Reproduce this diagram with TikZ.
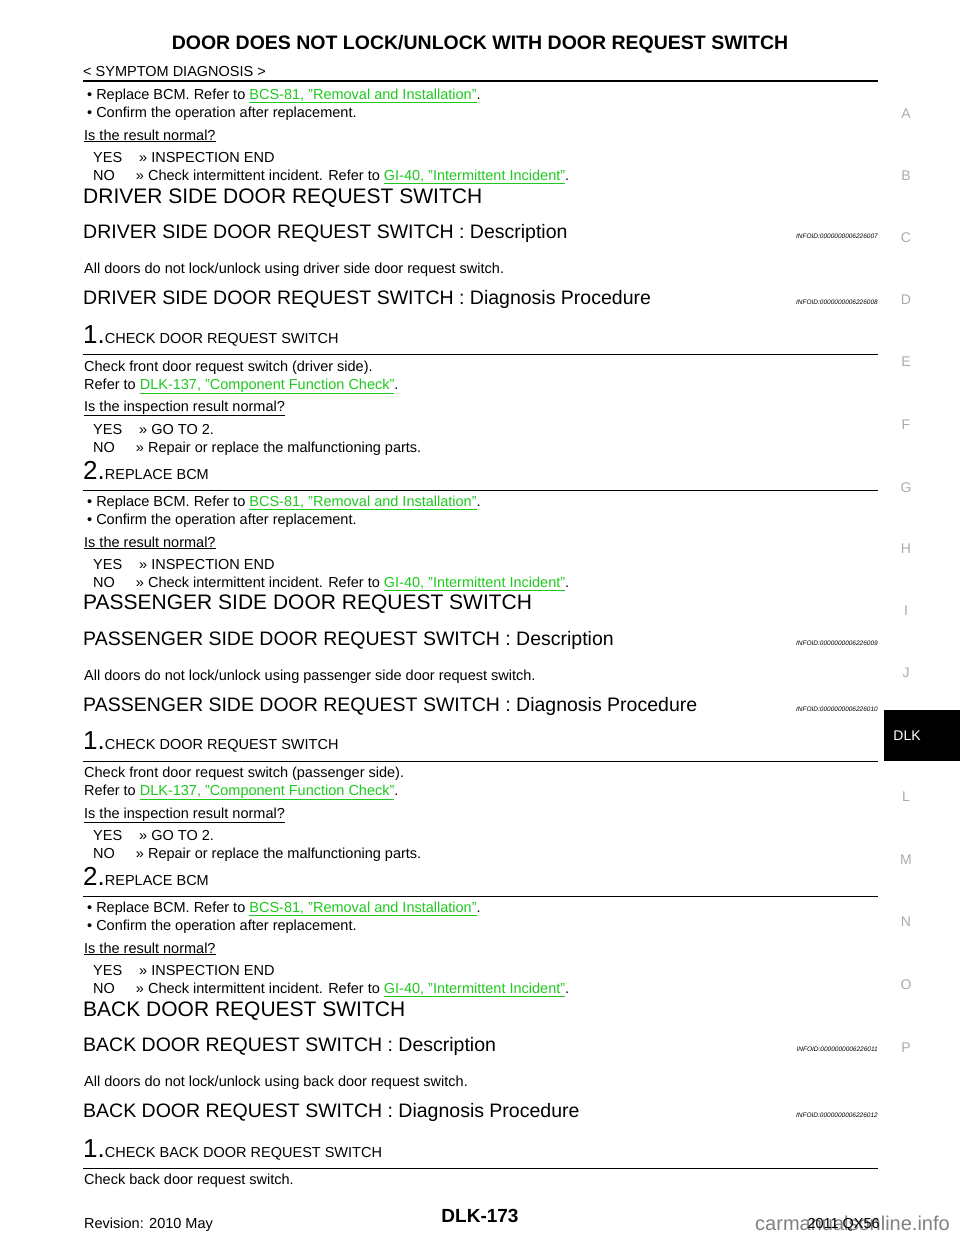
\documentclass[tikz,border=0pt]{standalone}
\usepackage{fontspec}
\setmainfont{Liberation Sans}
\usepackage{xcolor}
\definecolor{lnkgreen}{RGB}{30,200,30}
\definecolor{tabgray}{RGB}{170,170,170}
\newcommand{\lnk}[1]{\textcolor{lnkgreen}{\underline{#1}}}
\newcommand{\stepno}[2]{{\fontsize{26}{26}\selectfont #1}#2}
\tikzset{
  txt/.style={anchor=base west, inner sep=0pt, font=\fontsize{14.5}{17}\selectfont},
  hd/.style={anchor=base west, inner sep=0pt, font=\fontsize{21}{24}\selectfont},
  sub/.style={anchor=base west, inner sep=0pt, font=\fontsize{19.5}{22}\selectfont},
  info/.style={anchor=base east, inner sep=0pt, font=\fontsize{6.5}{8}\itshape\selectfont},
  tab/.style={inner sep=0pt, text=tabgray, font=\fontsize{14}{16}\selectfont},
  rulethin/.style={line width=1pt},
}
\begin{document}
\begin{tikzpicture}[x=1pt, y=-1pt]
  \useasboundingbox (0,0) rectangle (960,1242);
  % header
  \node[inner sep=0pt, font=\fontsize{19.5}{22}\bfseries\selectfont] (title) at (480,44) {DOOR DOES NOT LOCK/UNLOCK WITH DOOR REQUEST SWITCH};
  \node[txt] (sym) at (83,76) {< SYMPTOM DIAGNOSIS >};
  \draw[line width=2pt] (83,81) -- (878,81);

  % tabs on the right
  \foreach \l/\y in {A/114,B/176,C/238,D/300,E/362,F/425,G/488,H/549,I/611,J/673,L/797,M/860,N/922,O/985,P/1048}
    \node[tab] (tab\l) at (906,\y) {\l};
  \fill (884,710) rectangle (960,761);
  \node[tab, text=white] (tabDLK) at (907,736) {DLK};

  % end of previous procedure
  \node[txt] (b1) at (87,99) {•\hspace{4pt}Replace BCM. Refer to \lnk{BCS-81, "Removal and Installation"}.};
  \node[txt] (b2) at (87,117) {•\hspace{4pt}Confirm the operation after replacement.};
  \node[txt] (q1) at (84,140) {\underline{Is the result normal?}};
  \node[txt] (y1) at (93,162) {YES\hspace{17pt}>> INSPECTION END};
  \node[txt] (n1) at (93,180) {NO\hspace{21pt}>> Check intermittent incident. Refer to \lnk{GI-40, "Intermittent Incident"}.};

  % driver side
  \node[hd] (h1) at (83,203) {DRIVER SIDE DOOR REQUEST SWITCH};
  \node[sub] (s1) at (83,238) {DRIVER SIDE DOOR REQUEST SWITCH : Description};
  \node[info] (i1) at (878,238) {INFOID:0000000006226007};
  \node[txt] (d1) at (84,273) {All doors do not lock/unlock using driver side door request switch.};
  \node[sub] (s2) at (83,304) {DRIVER SIDE DOOR REQUEST SWITCH : Diagnosis Procedure};
  \node[info] (i2) at (878,304) {INFOID:0000000006226008};
  \node[txt] (st1) at (83,343) {\stepno{1.}{CHECK DOOR REQUEST SWITCH}};
  \draw[rulethin] (83,354) -- (878,354);
  \node[txt] (c1) at (84,371) {Check front door request switch (driver side).};
  \node[txt] (c2) at (84,389) {Refer to \lnk{DLK-137, "Component Function Check"}.};
  \node[txt] (q2) at (84,411) {\underline{Is the inspection result normal?}};
  \node[txt] (y2) at (93,434) {YES\hspace{17pt}>> GO TO 2.};
  \node[txt] (n2) at (93,452) {NO\hspace{21pt}>> Repair or replace the malfunctioning parts.};
  \node[txt] (st2) at (83,479) {\stepno{2.}{REPLACE BCM}};
  \draw[rulethin] (83,490) -- (878,490);
  \node[txt] (b3) at (87,506) {•\hspace{4pt}Replace BCM. Refer to \lnk{BCS-81, "Removal and Installation"}.};
  \node[txt] (b4) at (87,524) {•\hspace{4pt}Confirm the operation after replacement.};
  \node[txt] (q3) at (84,547) {\underline{Is the result normal?}};
  \node[txt] (y3) at (93,569) {YES\hspace{17pt}>> INSPECTION END};
  \node[txt] (n3) at (93,587) {NO\hspace{21pt}>> Check intermittent incident. Refer to \lnk{GI-40, "Intermittent Incident"}.};

  % passenger side
  \node[hd] (h2) at (83,609) {PASSENGER SIDE DOOR REQUEST SWITCH};
  \node[sub] (s3) at (83,645) {PASSENGER SIDE DOOR REQUEST SWITCH : Description};
  \node[info] (i3) at (878,645) {INFOID:0000000006226009};
  \node[txt] (d2) at (84,680) {All doors do not lock/unlock using passenger side door request switch.};
  \node[sub] (s4) at (83,711) {PASSENGER SIDE DOOR REQUEST SWITCH : Diagnosis Procedure};
  \node[info] (i4) at (878,711) {INFOID:0000000006226010};
  \node[txt] (st3) at (83,749) {\stepno{1.}{CHECK DOOR REQUEST SWITCH}};
  \draw[rulethin] (83,761) -- (878,761);
  \node[txt] (c3) at (84,777) {Check front door request switch (passenger side).};
  \node[txt] (c4) at (84,795) {Refer to \lnk{DLK-137, "Component Function Check"}.};
  \node[txt] (q4) at (84,818) {\underline{Is the inspection result normal?}};
  \node[txt] (y4) at (93,840) {YES\hspace{17pt}>> GO TO 2.};
  \node[txt] (n4) at (93,858) {NO\hspace{21pt}>> Repair or replace the malfunctioning parts.};
  \node[txt] (st4) at (83,885) {\stepno{2.}{REPLACE BCM}};
  \draw[rulethin] (83,896) -- (878,896);
  \node[txt] (b5) at (87,912) {•\hspace{4pt}Replace BCM. Refer to \lnk{BCS-81, "Removal and Installation"}.};
  \node[txt] (b6) at (87,930) {•\hspace{4pt}Confirm the operation after replacement.};
  \node[txt] (q5) at (84,953) {\underline{Is the result normal?}};
  \node[txt] (y5) at (93,975) {YES\hspace{17pt}>> INSPECTION END};
  \node[txt] (n5) at (93,993) {NO\hspace{21pt}>> Check intermittent incident. Refer to \lnk{GI-40, "Intermittent Incident"}.};

  % back door
  \node[hd] (h3) at (83,1016) {BACK DOOR REQUEST SWITCH};
  \node[sub] (s5) at (83,1051) {BACK DOOR REQUEST SWITCH : Description};
  \node[info] (i5) at (878,1051) {INFOID:0000000006226011};
  \node[txt] (d3) at (84,1086) {All doors do not lock/unlock using back door request switch.};
  \node[sub] (s6) at (83,1117) {BACK DOOR REQUEST SWITCH : Diagnosis Procedure};
  \node[info] (i6) at (878,1117) {INFOID:0000000006226012};
  \node[txt] (st5) at (83,1157) {\stepno{1.}{CHECK BACK DOOR REQUEST SWITCH}};
  \draw[rulethin] (83,1168) -- (878,1168);
  \node[txt] (c5) at (84,1184) {Check back door request switch.};

  % footer
  \node[inner sep=0pt, font=\fontsize{19}{22}\bfseries\selectfont] (pg) at (480,1216) {DLK-173};
  \node[txt] (rev) at (84,1228) {Revision: 2010 May};
  \node[txt, anchor=base east, text=gray] (wm) at (950,1230) {\fontsize{20}{22}\selectfont carmanualsonline.info};
  \node[txt, anchor=base east] (mdl) at (880,1228) {2011 QX56};
\end{tikzpicture}
\end{document}
